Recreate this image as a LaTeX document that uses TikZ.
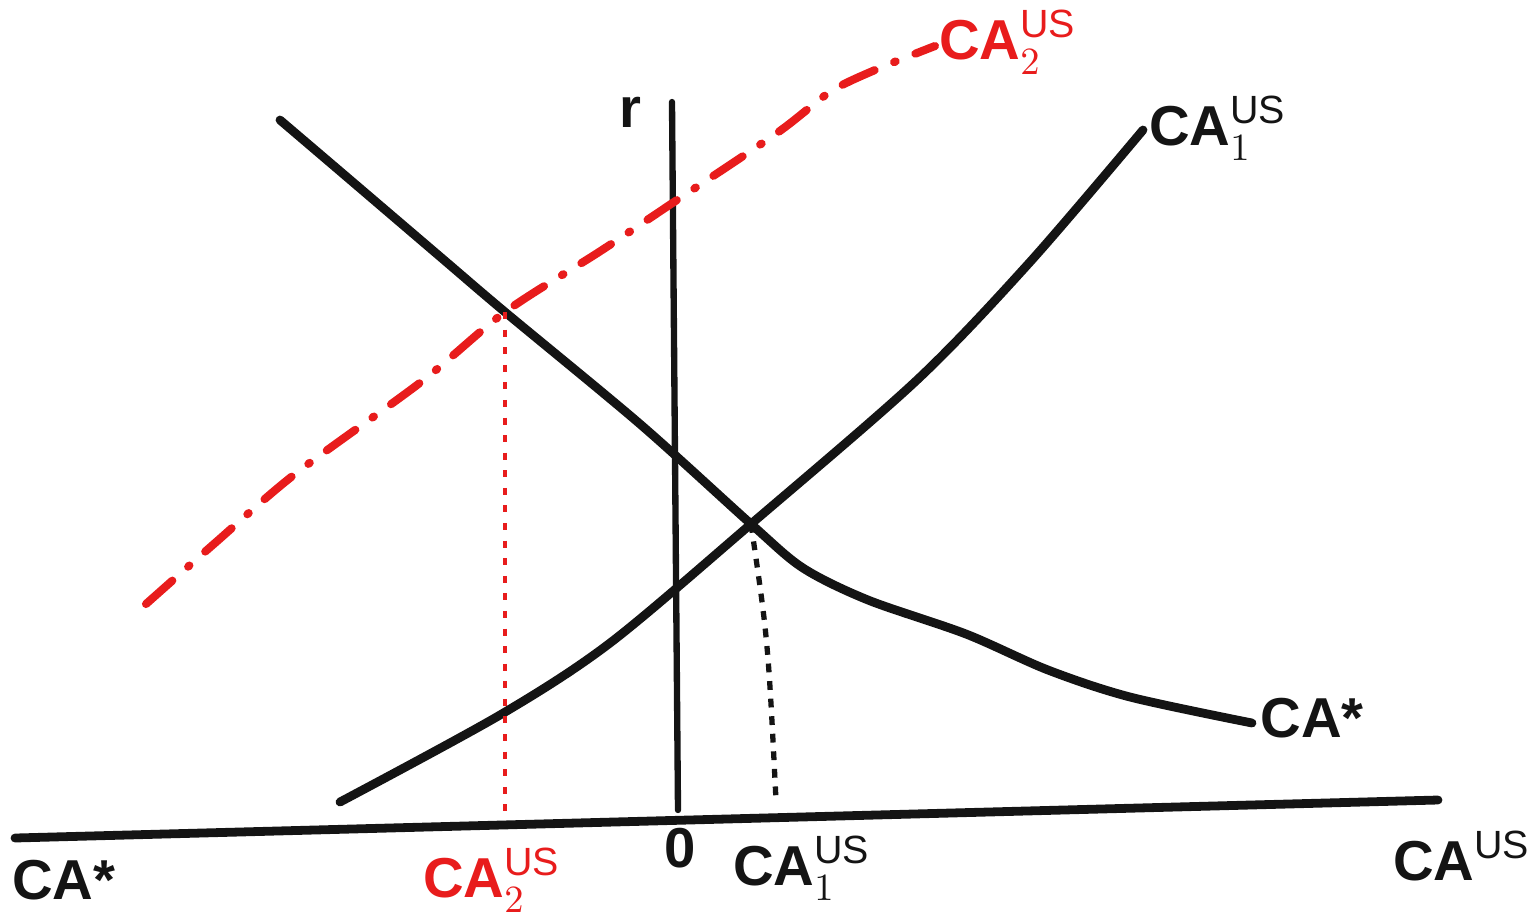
\documentclass[tikz,border=0pt]{standalone}
\usepackage{fontspec}
\setmainfont{Liberation Sans}
\usepackage{tikz}
\usetikzlibrary{arrows.meta,positioning}

\definecolor{pen}{RGB}{20,20,20}
\definecolor{redpen}{RGB}{232,28,28}

\tikzset{
  curve/.style={draw=pen,line width=2.5pt,line cap=round,line join=round},
  axisline/.style={draw=pen,line width=2.5pt,line cap=round},
  lbl/.style={font=\fontsize{16}{19}\selectfont\bfseries,text=pen,inner sep=1pt},
  redlbl/.style={lbl,text=redpen}
}

\begin{document}
\begin{tikzpicture}[x=0.01cm,y=-0.01cm]
\useasboundingbox (0,0) rectangle (1529,920);

% axes
\coordinate (xl) at (15,838);
\coordinate (xr) at (1438,800);
\coordinate (yb) at (678,810);
\coordinate (yt) at (672,102);
\draw[axisline] (xl)--(xr);
\draw[axisline,line width=1.8pt] (yb)--(yt);

% equilibria
\coordinate (eqone) at (751,524);
\coordinate (eqtwo) at (505,312);
\coordinate (eqonefoot) at (776,800);
\coordinate (eqtwofoot) at (505,815);

% CA* schedule
\draw[curve] plot[smooth,tension=0.5] coordinates {(280,120) (341,172) (444,260) (eqtwo) (640,424) (eqone) (803,568) (868,600) (966,634) (1048,670) (1130,697) (1252,723)};
% CA US 1 schedule
\draw[curve] plot[smooth,tension=0.5] coordinates {(340,802) (500,715) (610,643) (eqone) (917,380) (1030,262) (1143,130)};
% CA US 2 schedule (shifted)
\draw[draw=redpen,line width=2.3pt,line cap=round,dash pattern=on 10pt off 6pt on 0.5pt off 6pt]
  plot[smooth,tension=0.5] coordinates {(146,604) (215,543) (295,474) (421,382) (eqtwo) (599,252) (668,206) (777,133) (830,92) (875,70) (935,46)};

% drop lines
\draw[pen,line width=1.5pt,dash pattern=on 2.5pt off 2.5pt] (eqone) .. controls (768,640) .. (eqonefoot);
\draw[redpen,line width=1.2pt,dash pattern=on 2pt off 3pt] (eqtwo)--(eqtwofoot);

% labels
\node[lbl] (rlab) at (630,112) {r};
\node[lbl] (zero) at (680,848) {0};
\node[lbl,anchor=west] (castarl) at (8,880) {CA*};
\node[redlbl] (catwob) at (492,880) {CA$^{\mathrm{US}}_{2}$};
\node[lbl] (caoneb) at (802,868) {CA$^{\mathrm{US}}_{1}$};
\node[lbl] (caus) at (1462,856) {CA$^{\mathrm{US}}$};
\node[redlbl] (catwot) at (1008,42) {CA$^{\mathrm{US}}_{2}$};
\node[lbl] (caonet) at (1218,128) {CA$^{\mathrm{US}}_{1}$};
\node[lbl] (castarr) at (1312,718) {CA*};
\end{tikzpicture}
\end{document}
